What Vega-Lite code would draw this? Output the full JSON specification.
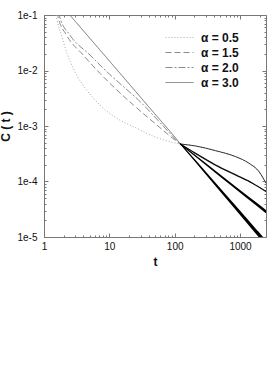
{
  "$schema": "https://vega.github.io/schema/vega-lite/v6.json",
  "width": 222,
  "height": 222,
  "autosize": {"type": "none"},
  "padding": {"left": 44, "top": 15, "right": 7, "bottom": 155},
  "background": "white",
  "config": {
    "font": "Liberation Sans",
    "view": {"stroke": "#777777", "strokeWidth": 1},
    "legend": {
      "orient": "none", "legendX": 129, "legendY": 16, "padding": 0,
      "symbolType": "M-2.5,0L2.5,0", "symbolSize": 125, "symbolStrokeWidth": 1,
      "labelFont": "Liberation Sans", "labelFontSize": 12, "labelFontWeight": "bold",
      "labelColor": "#111111", "labelOffset": 15, "rowPadding": 2, "title": null
    }
  },
  "data": {"values": [
    {"s": "α = 0.5", "t": 1.51, "c": 0.113},
    {"s": "α = 0.5", "t": 1.55, "c": 0.093},
    {"s": "α = 0.5", "t": 1.85, "c": 0.0436},
    {"s": "α = 0.5", "t": 2.21, "c": 0.0218},
    {"s": "α = 0.5", "t": 2.97, "c": 0.0095},
    {"s": "α = 0.5", "t": 4.49, "c": 0.00446},
    {"s": "α = 0.5", "t": 7.19, "c": 0.00239},
    {"s": "α = 0.5", "t": 13, "c": 0.00138},
    {"s": "α = 0.5", "t": 26.4, "c": 0.00091},
    {"s": "α = 0.5", "t": 42.3, "c": 0.00069},
    {"s": "α = 0.5", "t": 86, "c": 0.00052},
    {"s": "α = 0.5", "t": 122, "c": 0.000474},
    {"s": "α = 0.5", "t": 208, "c": 0.000437},
    {"s": "α = 0.5", "t": 423, "c": 0.000359},
    {"s": "α = 0.5", "t": 859, "c": 0.00028},
    {"s": "α = 0.5", "t": 1375, "c": 0.000213},
    {"s": "α = 0.5", "t": 1960, "c": 0.00015},
    {"s": "α = 0.5", "t": 2500, "c": 0.000093},
    {"s": "α = 1.5", "t": 1.6, "c": 0.113},
    {"s": "α = 1.5", "t": 1.64, "c": 0.093},
    {"s": "α = 1.5", "t": 2.21, "c": 0.0436},
    {"s": "α = 1.5", "t": 3.98, "c": 0.019},
    {"s": "α = 1.5", "t": 7.19, "c": 0.0089},
    {"s": "α = 1.5", "t": 13, "c": 0.00446},
    {"s": "α = 1.5", "t": 23.4, "c": 0.00239},
    {"s": "α = 1.5", "t": 50.5, "c": 0.0011},
    {"s": "α = 1.5", "t": 122, "c": 0.000474},
    {"s": "α = 1.5", "t": 208, "c": 0.000322},
    {"s": "α = 1.5", "t": 423, "c": 0.000198},
    {"s": "α = 1.5", "t": 859, "c": 0.000131},
    {"s": "α = 1.5", "t": 1552, "c": 0.000093},
    {"s": "α = 1.5", "t": 2500, "c": 0.000066},
    {"s": "α = 2.0", "t": 1.68, "c": 0.113},
    {"s": "α = 2.0", "t": 1.74, "c": 0.093},
    {"s": "α = 2.0", "t": 2.49, "c": 0.0436},
    {"s": "α = 2.0", "t": 5.05, "c": 0.019},
    {"s": "α = 2.0", "t": 9.12, "c": 0.00955},
    {"s": "α = 2.0", "t": 16.4, "c": 0.00513},
    {"s": "α = 2.0", "t": 27.9, "c": 0.00294},
    {"s": "α = 2.0", "t": 60.3, "c": 0.00114},
    {"s": "α = 2.0", "t": 122, "c": 0.000474},
    {"s": "α = 2.0", "t": 200, "c": 0.000299},
    {"s": "α = 2.0", "t": 300, "c": 0.000205},
    {"s": "α = 2.0", "t": 500, "c": 0.000127},
    {"s": "α = 2.0", "t": 800, "c": 0.000082},
    {"s": "α = 2.0", "t": 1200, "c": 0.000056},
    {"s": "α = 2.0", "t": 1800, "c": 0.000039},
    {"s": "α = 2.0", "t": 2500, "c": 0.0000285},
    {"s": "α = 3.0", "t": 2.1, "c": 0.125},
    {"s": "α = 3.0", "t": 3, "c": 0.0772},
    {"s": "α = 3.0", "t": 5, "c": 0.0384},
    {"s": "α = 3.0", "t": 10, "c": 0.0149},
    {"s": "α = 3.0", "t": 20, "c": 0.00576},
    {"s": "α = 3.0", "t": 50, "c": 0.00164},
    {"s": "α = 3.0", "t": 100, "c": 0.000637},
    {"s": "α = 3.0", "t": 122, "c": 0.000478},
    {"s": "α = 3.0", "t": 200, "c": 0.000247},
    {"s": "α = 3.0", "t": 300, "c": 0.000142},
    {"s": "α = 3.0", "t": 500, "c": 0.0000705},
    {"s": "α = 3.0", "t": 800, "c": 0.0000371},
    {"s": "α = 3.0", "t": 1200, "c": 0.0000213},
    {"s": "α = 3.0", "t": 1800, "c": 0.0000122},
    {"s": "α = 3.0", "t": 2500, "c": 0.0000078}
  ]},
  "resolve": {
    "scale": {"size": "independent"},
    "axis": {"x": "independent", "y": "independent"}
  },
  "layer": [
    {
      "mark": {"type": "line", "strokeWidth": 1, "clip": true, "interpolate": "monotone"},
      "encoding": {
        "x": {"field": "t", "type": "quantitative",
          "scale": {"type": "log", "domain": [1, 2500], "nice": false},
          "axis": {"orient": "bottom", "values": [1, 10, 100, 1000], "format": "d",
            "ticks": false, "domain": false, "grid": false, "labelPadding": 4,
            "labelFontSize": 10, "labelColor": "#111111", "labelFlush": false,
            "title": "t", "titleFontSize": 12, "titleFontWeight": "bold", "titlePadding": 5, "titleColor": "#111111"}},
        "y": {"field": "c", "type": "quantitative",
          "scale": {"type": "log", "domain": [0.00001, 0.1], "nice": false},
          "axis": {"orient": "left", "values": [0.00001, 0.0001, 0.001, 0.01, 0.1], "format": ".0e",
            "ticks": false, "domain": false, "grid": false, "labelPadding": 7,
            "labelFontSize": 10, "labelColor": "#111111", "labelFlush": false,
            "title": "C ( t )", "titleFontSize": 12, "titleFontWeight": "bold", "titlePadding": 4, "titleColor": "#111111"}},
        "color": {"field": "s", "type": "nominal",
          "scale": {"domain": ["α = 0.5", "α = 1.5", "α = 2.0", "α = 3.0"],
            "range": ["#aaaaaa", "#8a8a8a", "#8a8a8a", "#707070"]}},
        "strokeDash": {"field": "s", "type": "nominal",
          "scale": {"domain": ["α = 0.5", "α = 1.5", "α = 2.0", "α = 3.0"],
            "range": [[1, 2], [6, 3], [7, 2, 2, 2], [1, 0]]}}
      }
    },
    {
      "transform": [{"filter": "datum.s == 'α = 0.5' && datum.t >= 122"}],
      "mark": {"type": "line", "strokeWidth": 1, "clip": true, "color": "#333333", "interpolate": "monotone"},
      "encoding": {
        "x": {"field": "t", "type": "quantitative",
          "axis": {"orient": "bottom", "values": [1, 10, 100, 1000], "labels": false, "domain": false,
            "grid": false, "ticks": true, "tickSize": -4, "tickColor": "#777777", "title": null}},
        "y": {"field": "c", "type": "quantitative",
          "axis": {"orient": "left", "values": [0.00001, 0.0001, 0.001, 0.01, 0.1], "labels": false, "domain": false,
            "grid": false, "ticks": true, "tickSize": -4, "tickColor": "#777777", "title": null}}
      }
    },
    {
      "transform": [{"filter": "datum.s == 'α = 1.5' && datum.t >= 122"}],
      "mark": {"type": "line", "strokeWidth": 1.4, "clip": true, "color": "#111111", "interpolate": "monotone"},
      "encoding": {
        "x": {"field": "t", "type": "quantitative",
          "axis": {"orient": "bottom", "values": [2, 3, 4, 5, 6, 7, 8, 9, 20, 30, 40, 50, 60, 70, 80, 90, 200, 300, 400, 500, 600, 700, 800, 900, 2000],
            "labels": false, "domain": false, "grid": false, "ticks": true, "tickSize": -2, "tickColor": "#777777", "title": null}},
        "y": {"field": "c", "type": "quantitative",
          "axis": {"orient": "left", "values": [0.00002, 0.00003, 0.00004, 0.00005, 0.00006, 0.00007, 0.00008, 0.00009, 0.0002, 0.0003, 0.0004, 0.0005, 0.0006, 0.0007, 0.0008, 0.0009, 0.002, 0.003, 0.004, 0.005, 0.006, 0.007, 0.008, 0.009, 0.02, 0.03, 0.04, 0.05, 0.06, 0.07, 0.08, 0.09],
            "labels": false, "domain": false, "grid": false, "ticks": true, "tickSize": -2, "tickColor": "#777777", "title": null}}
      }
    },
    {
      "transform": [{"filter": "datum.s == 'α = 2.0' && datum.t >= 122"}],
      "mark": {"type": "trail", "clip": true, "color": "#000000"},
      "encoding": {
        "x": {"field": "t", "type": "quantitative",
          "axis": {"orient": "top", "values": [1, 10, 100, 1000], "labels": false, "domain": false,
            "grid": false, "ticks": true, "tickSize": -4, "tickColor": "#777777", "title": null}},
        "y": {"field": "c", "type": "quantitative",
          "axis": {"orient": "right", "values": [0.00001, 0.0001, 0.001, 0.01, 0.1], "labels": false, "domain": false,
            "grid": false, "ticks": true, "tickSize": -4, "tickColor": "#777777", "title": null}},
        "size": {"field": "t", "type": "quantitative",
          "scale": {"type": "log", "domain": [122, 2500], "range": [1, 2.6]}, "legend": null}
      }
    },
    {
      "transform": [{"filter": "datum.s == 'α = 3.0' && datum.t >= 122"}],
      "mark": {"type": "trail", "clip": true, "color": "#000000"},
      "encoding": {
        "x": {"field": "t", "type": "quantitative",
          "axis": {"orient": "top", "values": [2, 3, 4, 5, 6, 7, 8, 9, 20, 30, 40, 50, 60, 70, 80, 90, 200, 300, 400, 500, 600, 700, 800, 900, 2000],
            "labels": false, "domain": false, "grid": false, "ticks": true, "tickSize": -2, "tickColor": "#777777", "title": null}},
        "y": {"field": "c", "type": "quantitative",
          "axis": {"orient": "right", "values": [0.00002, 0.00003, 0.00004, 0.00005, 0.00006, 0.00007, 0.00008, 0.00009, 0.0002, 0.0003, 0.0004, 0.0005, 0.0006, 0.0007, 0.0008, 0.0009, 0.002, 0.003, 0.004, 0.005, 0.006, 0.007, 0.008, 0.009, 0.02, 0.03, 0.04, 0.05, 0.06, 0.07, 0.08, 0.09],
            "labels": false, "domain": false, "grid": false, "ticks": true, "tickSize": -2, "tickColor": "#777777", "title": null}},
        "size": {"field": "t", "type": "quantitative",
          "scale": {"type": "log", "domain": [122, 2500], "range": [1, 3.6]}, "legend": null}
      }
    }
  ]
}
